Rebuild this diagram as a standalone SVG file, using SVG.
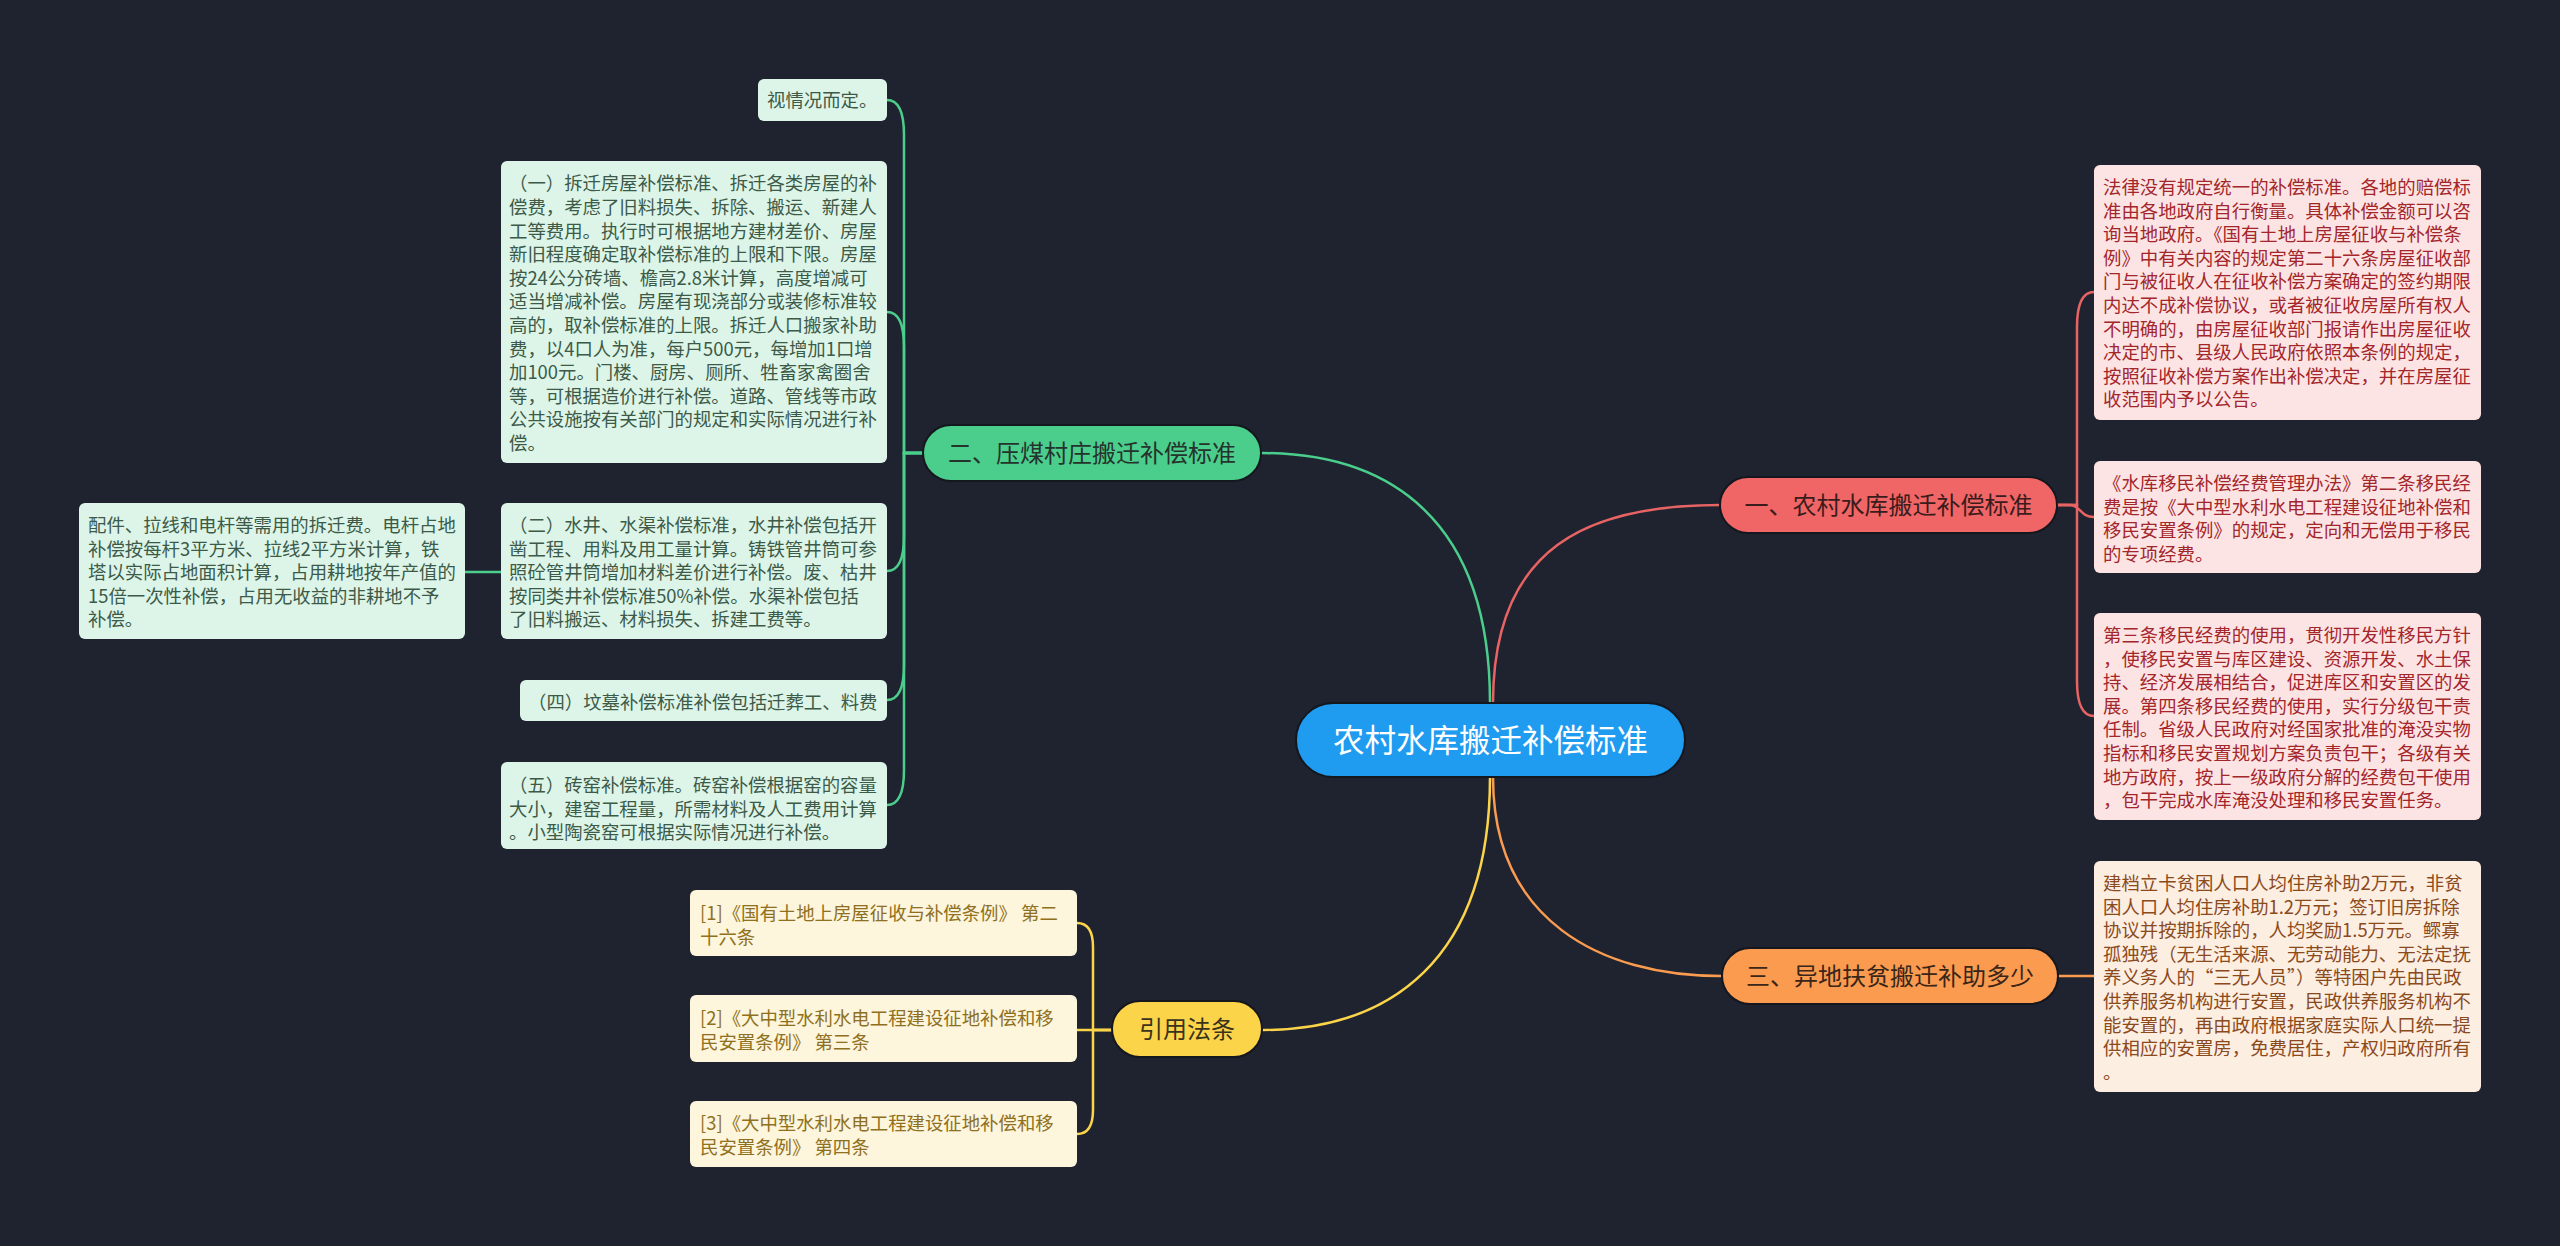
<svg xmlns="http://www.w3.org/2000/svg" width="2560" height="1246" viewBox="0 0 2560 1246">
<style>
text{font-family:"Noto Sans CJK SC","Noto Sans",sans-serif}
.leaf{font-size:18.4px}
.br{font-size:24px;text-anchor:middle}
.g rect{fill:#dcf5e8}
.g text{fill:#3d5a49}
.r rect{fill:#fde4e4}
.r text{fill:#a3262b}
.o rect{fill:#fdeee2}
.o text{fill:#8b4a1c}
.y rect{fill:#fdf5dc}
.y text{fill:#8e7020}
.bn{stroke:#15171e;stroke-width:2}
.c{fill:none;stroke-width:2.5;stroke-linecap:round}
.cg{stroke:#4bce8c}.cr{stroke:#e86464}.co{stroke:#fa9b50}.cy{stroke:#fbd44a}
</style>
<rect width="2560" height="1246" fill="#1f2330"/>
<g id="connectors">
<path class="c cg" d="M1490,703 C1490,520 1390,453 1261,453"/>
<path class="c cr" d="M1493,703 C1493,545 1590,505 1720,505"/>
<path class="c co" d="M1493,777 C1493,920 1600,976 1721,976"/>
<path class="c cy" d="M1490,777 C1490,960 1390,1030 1262,1030"/>
<path class="c cg" d="M923,453 H904 V135 Q904,100 887,100"/>
<path class="c cg" d="M923,453 H904 V347 Q904,312 887,312"/>
<path class="c cg" d="M923,453 H904 V536 Q904,571 887,571"/>
<path class="c cg" d="M923,453 H904 V665 Q904,700 887,700"/>
<path class="c cg" d="M923,453 H904 V770 Q904,805 887,805"/>
<path class="c cg" d="M501,572 H465"/>
<path class="c cr" d="M2058,505 H2077 V327 Q2077,292 2094,292"/>
<path class="c cr" d="M2058,505 H2070 C2080,505 2080,517 2094,517"/>
<path class="c cr" d="M2058,505 H2077 V681 Q2077,716 2094,716"/>
<path class="c co" d="M2059,976 H2094"/>
<path class="c cy" d="M1112,1030 H1093 V947 Q1093,923 1077,923"/>
<path class="c cy" d="M1112,1030 H1077"/>
<path class="c cy" d="M1112,1030 H1093 V1110 Q1093,1134 1077,1134"/>
</g>
<g id="root">
<rect x="1296" y="703" width="389" height="74" rx="37" fill="#1f9bf0" class="bn"/>
<text x="1490.5" y="752" font-size="31.5" text-anchor="middle" fill="#ffffff">农村水库搬迁补偿标准</text>
</g>
<g id="b2">
<rect x="923" y="425" width="338" height="56" rx="28" fill="#4bce8c" class="bn"/>
<text class="br" x="1092" y="462" fill="#24342c">二、压煤村庄搬迁补偿标准</text>
</g>
<g id="b1">
<rect x="1720" y="477" width="337" height="56" rx="28" fill="#f06565" class="bn"/>
<text class="br" x="1888.5" y="514" fill="#3a1c1c">一、农村水库搬迁补偿标准</text>
</g>
<g id="b3">
<rect x="1722" y="948" width="336" height="56" rx="28" fill="#fa9b50" class="bn"/>
<text class="br" x="1890" y="985" fill="#3a2618">三、异地扶贫搬迁补助多少</text>
</g>
<g id="b4">
<rect x="1112" y="1001" width="150" height="56" rx="28" fill="#fbd44a" class="bn"/>
<text class="br" x="1187" y="1038" fill="#3a321c">引用法条</text>
</g>
<g id="g0" class="g leaf">
<rect x="758" y="79" width="129" height="42" rx="6"/>
<text x="767" y="107">视情况而定。</text>
</g>
<g id="g1" class="g leaf">
<rect x="501" y="161" width="386" height="302" rx="6"/>
<text x="509" y="190.3">（一）拆迁房屋补偿标准、拆迁各类房屋的补</text>
<text x="509" y="213.9">偿费，考虑了旧料损失、拆除、搬运、新建人</text>
<text x="509" y="237.5">工等费用。执行时可根据地方建材差价、房屋</text>
<text x="509" y="261.1">新旧程度确定取补偿标准的上限和下限。房屋</text>
<text x="509" y="284.7">按24公分砖墙、檐高2.8米计算，高度增减可</text>
<text x="509" y="308.3">适当增减补偿。房屋有现浇部分或装修标准较</text>
<text x="509" y="331.9">高的，取补偿标准的上限。拆迁人口搬家补助</text>
<text x="509" y="355.5">费，以4口人为准，每户500元，每增加1口增</text>
<text x="509" y="379.1">加100元。门楼、厨房、厕所、牲畜家禽圈舍</text>
<text x="509" y="402.7">等，可根据造价进行补偿。道路、管线等市政</text>
<text x="509" y="426.3">公共设施按有关部门的规定和实际情况进行补</text>
<text x="509" y="449.9">偿。</text>
</g>
<g id="g2" class="g leaf">
<rect x="501" y="503" width="386" height="136" rx="6"/>
<text x="509" y="532">（二）水井、水渠补偿标准，水井补偿包括开</text>
<text x="509" y="555.6">凿工程、用料及用工量计算。铸铁管井筒可参</text>
<text x="509" y="579.2">照砼管井筒增加材料差价进行补偿。废、枯井</text>
<text x="509" y="602.8">按同类井补偿标准50%补偿。水渠补偿包括</text>
<text x="509" y="626.4">了旧料搬运、材料损失、拆建工费等。</text>
</g>
<g id="g3" class="g leaf">
<rect x="79" y="503" width="386" height="136" rx="6"/>
<text x="88" y="532">配件、拉线和电杆等需用的拆迁费。电杆占地</text>
<text x="88" y="555.6">补偿按每杆3平方米、拉线2平方米计算，铁</text>
<text x="88" y="579.2">塔以实际占地面积计算，占用耕地按年产值的</text>
<text x="88" y="602.8">15倍一次性补偿，占用无收益的非耕地不予</text>
<text x="88" y="626.4">补偿。</text>
</g>
<g id="g4" class="g leaf">
<rect x="520" y="680" width="367" height="41" rx="6"/>
<text x="528" y="709">（四）坟墓补偿标准补偿包括迁葬工、料费</text>
</g>
<g id="g5" class="g leaf">
<rect x="501" y="762" width="386" height="87" rx="6"/>
<text x="509" y="792">（五）砖窑补偿标准。砖窑补偿根据窑的容量</text>
<text x="509" y="815.6">大小，建窑工程量，所需材料及人工费用计算</text>
<text x="509" y="839.2">。小型陶瓷窑可根据实际情况进行补偿。</text>
</g>
<g id="r1" class="r leaf">
<rect x="2094" y="165" width="387" height="255" rx="6"/>
<text x="2103" y="194">法律没有规定统一的补偿标准。各地的赔偿标</text>
<text x="2103" y="217.6">准由各地政府自行衡量。具体补偿金额可以咨</text>
<text x="2103" y="241.2">询当地政府。《国有土地上房屋征收与补偿条</text>
<text x="2103" y="264.8">例》中有关内容的规定第二十六条房屋征收部</text>
<text x="2103" y="288.4">门与被征收人在征收补偿方案确定的签约期限</text>
<text x="2103" y="312">内达不成补偿协议，或者被征收房屋所有权人</text>
<text x="2103" y="335.6">不明确的，由房屋征收部门报请作出房屋征收</text>
<text x="2103" y="359.2">决定的市、县级人民政府依照本条例的规定，</text>
<text x="2103" y="382.8">按照征收补偿方案作出补偿决定，并在房屋征</text>
<text x="2103" y="406.4">收范围内予以公告。</text>
</g>
<g id="r2" class="r leaf">
<rect x="2094" y="461" width="387" height="112" rx="6"/>
<text x="2103" y="490">《水库移民补偿经费管理办法》第二条移民经</text>
<text x="2103" y="513.6">费是按《大中型水利水电工程建设征地补偿和</text>
<text x="2103" y="537.2">移民安置条例》的规定，定向和无偿用于移民</text>
<text x="2103" y="560.8">的专项经费。</text>
</g>
<g id="r3" class="r leaf">
<rect x="2094" y="613" width="387" height="207" rx="6"/>
<text x="2103" y="642">第三条移民经费的使用，贯彻开发性移民方针</text>
<text x="2103" y="665.6">，使移民安置与库区建设、资源开发、水土保</text>
<text x="2103" y="689.2">持、经济发展相结合，促进库区和安置区的发</text>
<text x="2103" y="712.8">展。第四条移民经费的使用，实行分级包干责</text>
<text x="2103" y="736.4">任制。省级人民政府对经国家批准的淹没实物</text>
<text x="2103" y="760">指标和移民安置规划方案负责包干；各级有关</text>
<text x="2103" y="783.6">地方政府，按上一级政府分解的经费包干使用</text>
<text x="2103" y="807.2">，包干完成水库淹没处理和移民安置任务。</text>
</g>
<g id="o1" class="o leaf">
<rect x="2094" y="861" width="387" height="231" rx="6"/>
<text x="2103" y="890">建档立卡贫困人口人均住房补助2万元，非贫</text>
<text x="2103" y="913.6">困人口人均住房补助1.2万元；签订旧房拆除</text>
<text x="2103" y="937.2">协议并按期拆除的，人均奖励1.5万元。鳏寡</text>
<text x="2103" y="960.8">孤独残（无生活来源、无劳动能力、无法定抚</text>
<text x="2103" y="984.4">养义务人的“三无人员”）等特困户先由民政</text>
<text x="2103" y="1008">供养服务机构进行安置，民政供养服务机构不</text>
<text x="2103" y="1031.6">能安置的，再由政府根据家庭实际人口统一提</text>
<text x="2103" y="1055.2">供相应的安置房，免费居住，产权归政府所有</text>
<text x="2103" y="1078.8">。</text>
</g>
<g id="y1" class="y leaf">
<rect x="690" y="890" width="387" height="66" rx="6"/>
<text x="700" y="920">[1]《国有土地上房屋征收与补偿条例》 第二</text>
<text x="700" y="943.6">十六条</text>
</g>
<g id="y2" class="y leaf">
<rect x="690" y="995" width="387" height="67" rx="6"/>
<text x="700" y="1025">[2]《大中型水利水电工程建设征地补偿和移</text>
<text x="700" y="1048.6">民安置条例》 第三条</text>
</g>
<g id="y3" class="y leaf">
<rect x="690" y="1101" width="387" height="66" rx="6"/>
<text x="700" y="1130">[3]《大中型水利水电工程建设征地补偿和移</text>
<text x="700" y="1153.6">民安置条例》 第四条</text>
</g>
</svg>
